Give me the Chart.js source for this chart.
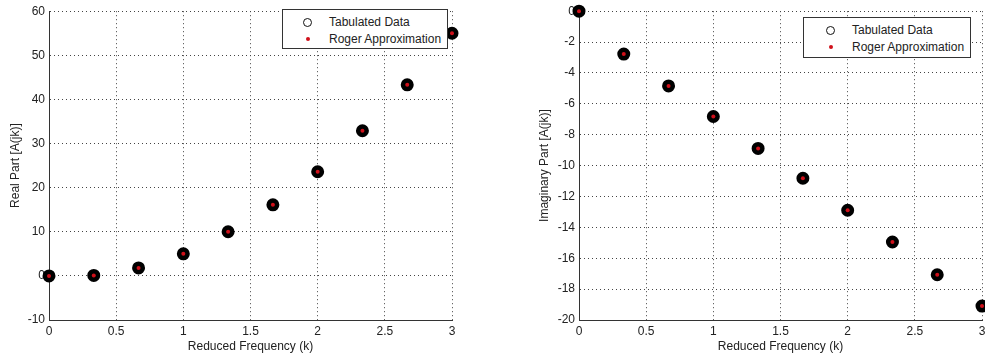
<!DOCTYPE html>
<html>
<head>
<meta charset="utf-8">
<script src="https://cdn.jsdelivr.net/npm/chart.js@4"></script>
<style>
  body { margin: 0; background: #fff; width: 985px; height: 362px; overflow: hidden; position: relative; font-family: "Liberation Sans", Arial, sans-serif; }
  .box { position: absolute; }
  .legend { position: absolute; background: #fff; border: 1px solid #333; font-size: 12px; color: #222; }
  .row { position: absolute; left: 0; height: 14px; line-height: 14px; white-space: nowrap; }
  .ring { position: absolute; width: 7px; height: 7px; border: 1px solid #111; border-radius: 50%; top: 3px; }
  .dot { position: absolute; width: 4px; height: 4px; background: #d0101a; border-radius: 50%; top: 5px; }
  .lbl { position: absolute; top: 0; }
</style>
</head>
<body>
<div class="box" style="left:0;top:0;width:490px;height:362px"><canvas id="realChart"></canvas></div>
<div class="box" style="left:495px;top:0;width:500px;height:362px"><canvas id="imagChart"></canvas></div>

<div class="legend" style="left:282px;top:9px;width:164px;height:38px">
  <div class="row" style="top:5px;width:160px"><span class="ring" style="left:20px"></span><span class="lbl" style="left:46px">Tabulated Data</span></div>
  <div class="row" style="top:22px;width:160px"><span class="dot" style="left:23px"></span><span class="lbl" style="left:46px">Roger Approximation</span></div>
</div>
<div class="legend" style="left:803px;top:17px;width:166px;height:39px">
  <div class="row" style="top:5px;width:160px"><span class="ring" style="left:22px"></span><span class="lbl" style="left:48px">Tabulated Data</span></div>
  <div class="row" style="top:22px;width:160px"><span class="dot" style="left:25px"></span><span class="lbl" style="left:48px">Roger Approximation</span></div>
</div>

<script>
// reduced frequency k
var kValues = [0, 0.3333, 0.6667, 1.0, 1.3333, 1.6667, 2.0, 2.3333, 2.6667, 3.0];

// real part of A(jk)
var realTabulated = [0, 0.1, 1.8, 5.0, 10.0, 16.1, 23.6, 32.9, 43.3, 55.0];
var realRoger     = [0, 0.1, 1.8, 5.0, 10.0, 16.1, 23.6, 32.9, 43.3, 55.0];

// imaginary part of A(jk)
var imagTabulated = [0, -2.78, -4.84, -6.82, -8.89, -10.82, -12.89, -14.95, -17.07, -19.1];
var imagRoger     = [0, -2.78, -4.84, -6.82, -8.89, -10.82, -12.89, -14.95, -17.07, -19.1];

var xTicks = [0, 0.5, 1, 1.5, 2, 2.5, 3];
var realYRange = [-10, 60, 10];
var imagYRange = [-20, 0, 2];

function toPoints(ys) {
    var pts = [];
    for (var i = 0; i < kValues.length; i++) {
        pts[i] = {x: kValues[i], y: ys[i]};
    }
    return pts;
}

var tickFont = {family: '"Liberation Sans", Arial, sans-serif', size: 12};

function buildConfig(tabulated, roger, yRange, yTitle, yWidth, titleOffset, canvasW, plotRight) {
    return {
        type: 'scatter',
        data: {
            datasets: [
                {label: 'Roger Approximation', data: toPoints(roger), pointStyle: 'circle',
                 pointRadius: 2, pointBackgroundColor: '#d0101a', pointBorderWidth: 0,
                 clip: false, order: 0},
                {label: 'Tabulated Data', data: toPoints(tabulated), pointStyle: 'circle',
                 pointRadius: 5, pointBackgroundColor: '#000', pointBorderColor: '#000',
                 pointBorderWidth: 3, clip: false, order: 1}
            ]
        },
        options: {
            responsive: false,
            animation: false,
            layout: {padding: {top: 3, right: canvasW - plotRight, left: 0, bottom: 0}},
            plugins: {legend: {display: false}, tooltip: {enabled: false}},
            scales: {
                x: {
                    type: 'linear', min: 0, max: 3,
                    afterBuildTicks: function (scale) {
                        scale.ticks = xTicks.map(function (v) { return {value: v}; });
                    },
                    afterFit: function (scale) { scale.height = 42; },
                    ticks: {font: tickFont, color: '#222', padding: 4,
                            callback: function (v) { return String(v); }},
                    grid: {color: '#444', drawTicks: false},
                    border: {color: '#333', width: 1, dash: [1, 3]},
                    title: {display: true, text: 'Reduced Frequency (k)', font: tickFont, color: '#222', padding: {top: 1, bottom: 8}}
                },
                y: {
                    type: 'linear', min: yRange[0], max: yRange[1],
                    ticks: {stepSize: yRange[2], font: tickFont, color: '#222', padding: 4},
                    afterFit: function (scale) { scale.width = yWidth; },
                    grid: {color: '#444', drawTicks: false},
                    border: {color: '#333', width: 1, dash: [1, 3]},
                    title: {display: true, text: yTitle, font: tickFont, color: '#222', padding: {top: titleOffset, bottom: 0}}
                }
            }
        }
    };
}

var realCanvas = document.getElementById('realChart');
realCanvas.width = 490; realCanvas.height = 362;
var imagCanvas = document.getElementById('imagChart');
imagCanvas.width = 500; imagCanvas.height = 362;

new Chart(realCanvas.getContext('2d'), buildConfig(realTabulated, realRoger, realYRange, 'Real Part [A(jk)]', 49, 8, 490, 452));
new Chart(imagCanvas.getContext('2d'), buildConfig(imagTabulated, imagRoger, imagYRange, 'Imaginary Part [A(jk)]', 84, 42, 500, 487));
</script>
</body>
</html>
